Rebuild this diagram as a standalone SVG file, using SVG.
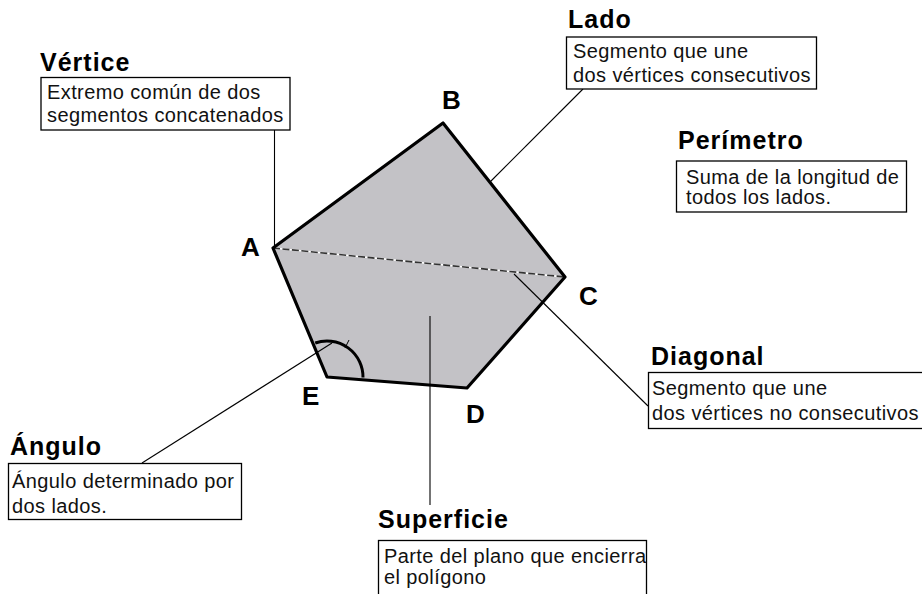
<svg xmlns="http://www.w3.org/2000/svg" width="922" height="594" viewBox="0 0 922 594">
<style>
.title{font-family:"Liberation Sans",Arial,sans-serif;font-weight:bold;font-size:25px;letter-spacing:1px;fill:#000}
.body{font-family:"Liberation Sans",Arial,sans-serif;font-size:20px;letter-spacing:0.4px;fill:#111}
.vlabel{font-family:"Liberation Sans",Arial,sans-serif;font-weight:bold;font-size:26px;fill:#000}
.box{fill:#fff;stroke:#000;stroke-width:1.3}
.lead{stroke:#000;stroke-width:1.1;fill:none}
</style>
<rect width="922" height="594" fill="#fff"/>
<g id="surface">
<polygon points="273,248 443,123 565,277 467,388 327,377" fill="#c3c2c6" stroke="none"/>
<line x1="273" y1="248" x2="565" y2="277" stroke="#fff" stroke-width="1.6"/>
<line x1="273" y1="248" x2="565" y2="277" stroke="#333" stroke-width="1.6" stroke-dasharray="7 2.5"/>
</g>
<g id="connectors">
<line class="lead" x1="274.5" y1="130" x2="274.5" y2="246"/>
<line class="lead" x1="583" y1="89" x2="490" y2="182"/>
<line class="lead" x1="514" y1="274" x2="648" y2="406"/>
<line class="lead" x1="142" y1="463" x2="332" y2="343"/>
<line class="lead" x1="430" y1="316" x2="430" y2="505"/>
</g>
<g id="polygon">
<polygon points="273,248 443,123 565,277 467,388 327,377" fill="none" stroke="#000" stroke-width="3.2" stroke-linejoin="round"/>
<path d="M315.2,343 A36,36 0 0 1 363,377.6" fill="none" stroke="#000" stroke-width="3"/>
<line x1="345" y1="348" x2="349" y2="340" stroke="#000" stroke-width="1"/>
</g>
<g id="vertex-labels">
<text class="vlabel" x="241" y="256">A</text>
<text class="vlabel" x="442" y="109">B</text>
<text class="vlabel" x="579" y="305">C</text>
<text class="vlabel" x="466" y="423">D</text>
<text class="vlabel" x="302" y="405">E</text>
</g>
<g id="vertice">
<text class="title" x="40" y="71">Vértice</text>
<rect class="box" x="41" y="77.5" width="249" height="52.5"/>
<text class="body" x="47" y="99">Extremo común de dos</text>
<text class="body" x="47" y="121.5">segmentos concatenados</text>
</g>
<g id="lado">
<text class="title" x="568" y="28">Lado</text>
<rect class="box" x="566.5" y="37" width="250" height="52"/>
<text class="body" x="573" y="58">Segmento que une</text>
<text class="body" x="573" y="81.5">dos vértices consecutivos</text>
</g>
<g id="perimetro">
<text class="title" x="678" y="149">Perímetro</text>
<rect class="box" x="676.5" y="161" width="230" height="51"/>
<text class="body" x="686" y="184">Suma de la longitud de</text>
<text class="body" x="686" y="204">todos los lados.</text>
</g>
<g id="diagonal">
<text class="title" x="651" y="365">Diagonal</text>
<rect class="box" x="648.5" y="372.5" width="290" height="56"/>
<text class="body" x="652" y="395">Segmento que une</text>
<text class="body" x="652" y="420">dos vértices no consecutivos</text>
</g>
<g id="angulo">
<text class="title" x="10" y="455">Ángulo</text>
<rect class="box" x="8.5" y="463.5" width="233" height="56"/>
<text class="body" x="12" y="488">Ángulo determinado por</text>
<text class="body" x="12" y="512.5">dos lados.</text>
</g>
<g id="superficie">
<text class="title" x="378" y="528">Superficie</text>
<rect class="box" x="378.5" y="540.5" width="268" height="80"/>
<text class="body" x="384" y="563">Parte del plano que encierra</text>
<text class="body" x="384" y="584">el polígono</text>
</g>
</svg>
